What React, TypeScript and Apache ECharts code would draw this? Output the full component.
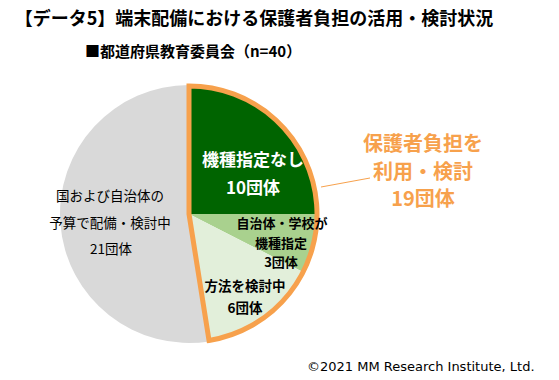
import React, { useEffect, useRef } from "react";
import * as echarts from "echarts";

const categories = ["機種指定なし", "自治体・学校が機種指定", "方法を検討中", "国および自治体の予算で配備・検討中"];
const values = [10, 3, 6, 21];
const colors = ["#006400", "#a9d18e", "#e2efda", "#d9d9d9"];
const ORANGE = "#f7a14c";
const FONT = "'Noto Sans CJK JP', 'Noto Sans', sans-serif";

export default function App() {
  const ref = useRef<HTMLDivElement>(null);
  useEffect(() => {
    if (!ref.current) return;
    const chart = echarts.init(ref.current, undefined, { renderer: "svg" });
    const parentSum = values[0] + values[1] + values[2];
    const cx = 189, cy = 214, r = 129;
    const txt = (x: number, y: number, text: string, size: number, color: string, weight: string, lh = 20) => ({
      type: "text",
      x,
      y,
      z: 100,
      style: {
        text,
        fill: color,
        font: `${weight} ${size}px ${FONT}`,
        align: "center",
        verticalAlign: "middle",
        lineHeight: lh,
      },
    });
    chart.setOption({
      animation: false,
      backgroundColor: "#ffffff",
      series: [
        {
          type: "pie",
          center: [cx, cy],
          radius: r,
          startAngle: 90,
          clockwise: true,
          label: { show: false },
          labelLine: { show: false },
          silent: true,
          data: categories.map((c, i) => ({
            name: c,
            value: values[i],
            itemStyle: { color: colors[i], borderWidth: 0 },
          })),
        },
        {
          type: "pie",
          center: [cx, cy],
          radius: r - 1,
          startAngle: 90,
          clockwise: true,
          z: 5,
          label: { show: false },
          labelLine: { show: false },
          silent: true,
          data: [
            { name: "保護者負担を利用・検討", value: parentSum, itemStyle: { color: "rgba(0,0,0,0)", borderColor: ORANGE, borderWidth: 5, borderJoin: "miter" } },
            { name: categories[3], value: values[3], itemStyle: { color: "rgba(0,0,0,0)", borderWidth: 0 } },
          ],
        },
      ],
      graphic: [
        txt(254, 17, "【データ5】端末配備における保護者負担の活用・検討状況", 18, "#000", "bold"),
        {
          type: "text",
          x: 85,
          y: 50,
          style: { text: "■都道府県教育委員会（n=40）", fill: "#000", font: `bold 15px ${FONT}`, align: "left", verticalAlign: "middle" },
        },
        txt(253, 158, "機種指定なし", 17, "#fff", "bold"),
        txt(253, 186, `${values[0]}団体`, 17, "#fff", "bold"),
        txt(282, 222, "自治体・学校が", 13, "#000", "bold"),
        txt(281, 242, "機種指定", 13, "#000", "bold"),
        txt(281, 261, `${values[1]}団体`, 13, "#000", "bold"),
        txt(245, 285, "方法を検討中", 13.5, "#000", "bold"),
        txt(245, 307, `${values[2]}団体`, 13.5, "#000", "bold"),
        txt(110, 195, "国および自治体の", 13.5, "#000", "normal"),
        txt(110, 222, "予算で配備・検討中", 13.5, "#000", "normal"),
        txt(111, 248, `${values[3]}団体`, 13.5, "#000", "normal"),
        txt(423, 142, "保護者負担を", 20, ORANGE, "bold"),
        txt(423, 170, "利用・検討", 20, ORANGE, "bold"),
        txt(423, 197, `${parentSum}団体`, 20, ORANGE, "bold"),
        {
          type: "line",
          z: 50,
          shape: { x1: 321, y1: 187, x2: 370, y2: 178 },
          style: { stroke: ORANGE, lineWidth: 1 },
        },
        {
          type: "text",
          x: 307,
          y: 366,
          style: { text: "©2021 MM Research Institute, Ltd.", fill: "#000", font: `13px 'DejaVu Sans', sans-serif`, align: "left", verticalAlign: "middle" },
        },
      ],
    });
    return () => chart.dispose();
  }, []);
  return <div ref={ref} style={{ width: 559, height: 380, position: "absolute", left: 0, top: 0 }} />;
}
